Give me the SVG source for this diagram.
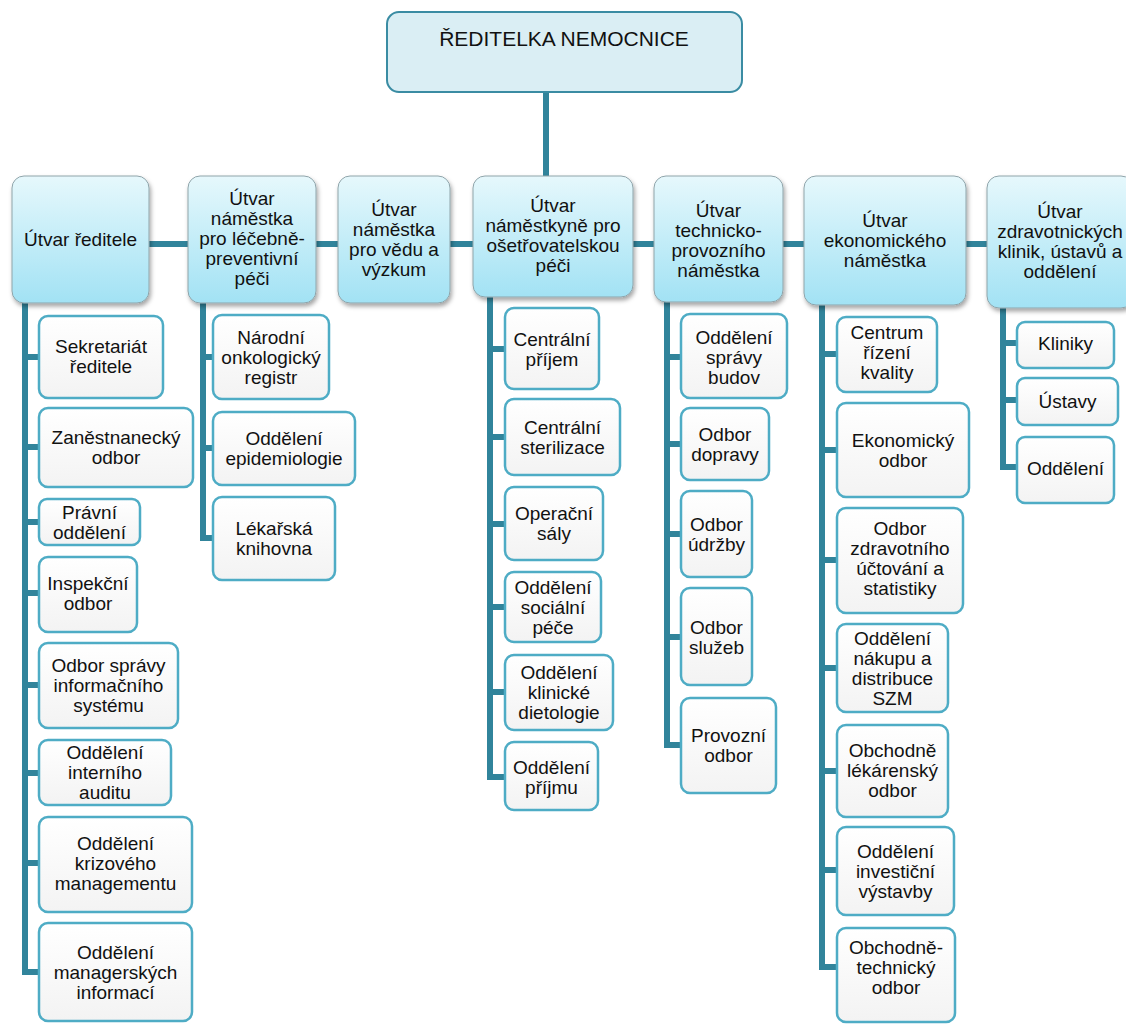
<svg xmlns="http://www.w3.org/2000/svg" width="1126" height="1024" viewBox="0 0 1126 1024">
<defs>
<linearGradient id="g2" x1="0" y1="0" x2="0" y2="1">
<stop offset="0" stop-color="#e6f8fc"/>
<stop offset="1" stop-color="#a2e2f4"/>
</linearGradient>
<linearGradient id="g3" x1="0" y1="0" x2="0" y2="1">
<stop offset="0" stop-color="#ffffff"/>
<stop offset="1" stop-color="#f3f3f3"/>
</linearGradient>
<filter id="sh" x="-10%" y="-10%" width="125%" height="130%">
<feDropShadow dx="1.5" dy="3" stdDeviation="2" flood-color="#000" flood-opacity="0.35"/>
</filter>
</defs>
<style>
text{font-family:"Liberation Sans",Arial,sans-serif;font-size:19px;fill:#111;text-anchor:middle}
.top rect{fill:#daeef4;stroke:#3a8ca3;stroke-width:2}
.top text{font-size:21px}
.l2 rect{fill:url(#g2);stroke:#8fa4aa;stroke-width:1;filter:url(#sh)}
.l3 rect{fill:url(#g3);stroke:#4eacc5;stroke-width:2.5}
.conn path{fill:none;stroke:#31849b;stroke-width:6;stroke-linejoin:miter}
</style>
<rect width="1126" height="1024" fill="#fff"/>
<g class="conn" id="connectors">
<path d="M546 92V244M149 244H987"/>
<path d="M25 303V972H39M25 357H39M25 447H39M25 522H39M25 593H39M25 685H39M25 773H39M25 863H39"/>
<path d="M203 302V538H213M203 357H213M203 448H213"/>
<path d="M490 297V777H505M490 349H505M490 437H505M490 524H505M490 607H505M490 692H505"/>
<path d="M667 302V745H681M667 357H681M667 444H681M667 534H681M667 637H681"/>
<path d="M822 305V967H837M822 354H837M822 450H837M822 560H837M822 668H837M822 771H837M822 870H837"/>
<path d="M1003 308V467H1017M1003 343H1017M1003 400H1017"/>
</g>

<g class="top" id="n-reditelka"><rect x="387" y="12" width="355" height="80" rx="12"/><text x="564" y="46">ŘEDITELKA NEMOCNICE</text></g>

<g class="l2" id="n-utvar-reditele"><rect x="12" y="176" width="137" height="127" rx="12"/><text x="80.5" y="246">Útvar ředitele</text></g>
<g class="l2" id="n-lecebne"><rect x="188" y="176" width="128" height="127" rx="12"/><text x="252" y="205">Útvar</text><text x="252" y="225">náměstka</text><text x="252" y="245">pro léčebně-</text><text x="252" y="265">preventivní</text><text x="252" y="285">péči</text></g>
<g class="l2" id="n-veda"><rect x="338" y="176" width="112" height="127" rx="12"/><text x="394" y="216">Útvar</text><text x="394" y="236">náměstka</text><text x="394" y="256">pro vědu a</text><text x="394" y="276">výzkum</text></g>
<g class="l2" id="n-osetrovatelska"><rect x="473" y="176" width="160" height="121" rx="12"/><text x="553" y="212">Útvar</text><text x="553" y="232">náměstkyně pro</text><text x="553" y="252">ošetřovatelskou</text><text x="553" y="272">péči</text></g>
<g class="l2" id="n-technicko"><rect x="654" y="176" width="129" height="126" rx="12"/><text x="718.5" y="217">Útvar</text><text x="718.5" y="237">technicko-</text><text x="718.5" y="257">provozního</text><text x="718.5" y="277">náměstka</text></g>
<g class="l2" id="n-ekonomicky"><rect x="804" y="176" width="162" height="129" rx="12"/><text x="885" y="227">Útvar</text><text x="885" y="247">ekonomického</text><text x="885" y="267">náměstka</text></g>
<g class="l2" id="n-zdravotnicke"><rect x="987" y="176" width="146" height="132" rx="12"/><text x="1060" y="218">Útvar</text><text x="1060" y="238">zdravotnických</text><text x="1060" y="258">klinik, ústavů a</text><text x="1060" y="278">oddělení</text></g>

<g class="l3" id="n-sekretariat"><rect x="39" y="316" width="124" height="82" rx="9"/><text x="101" y="353">Sekretariát</text><text x="101" y="373">ředitele</text></g>
<g class="l3" id="n-zamestnanecky"><rect x="39" y="408" width="154" height="79" rx="9"/><text x="116" y="444">Zaněstnanecký</text><text x="116" y="464">odbor</text></g>
<g class="l3" id="n-pravni"><rect x="39" y="499" width="101" height="46" rx="8"/><text x="89.5" y="519">Právní</text><text x="89.5" y="539">oddělení</text></g>
<g class="l3" id="n-inspekcni"><rect x="39" y="557" width="98" height="75" rx="9"/><text x="88" y="590">Inspekční</text><text x="88" y="610">odbor</text></g>
<g class="l3" id="n-is"><rect x="39" y="643" width="139" height="85" rx="9"/><text x="108.5" y="672">Odbor správy</text><text x="108.5" y="692">informačního</text><text x="108.5" y="712">systému</text></g>
<g class="l3" id="n-audit"><rect x="39" y="740" width="132" height="65" rx="9"/><text x="105" y="759">Oddělení</text><text x="105" y="779">interního</text><text x="105" y="799">auditu</text></g>
<g class="l3" id="n-krizovy"><rect x="39" y="817" width="153" height="95" rx="9"/><text x="115.5" y="850">Oddělení</text><text x="115.5" y="870">krizového</text><text x="115.5" y="890">managementu</text></g>
<g class="l3" id="n-managerske"><rect x="39" y="923" width="153" height="98" rx="9"/><text x="115.5" y="959">Oddělení</text><text x="115.5" y="979">managerských</text><text x="115.5" y="999">informací</text></g>

<g class="l3" id="n-onko"><rect x="213" y="315" width="116" height="84" rx="9"/><text x="271" y="344">Národní</text><text x="271" y="364">onkologický</text><text x="271" y="384">registr</text></g>
<g class="l3" id="n-epid"><rect x="213" y="412" width="142" height="73" rx="9"/><text x="284" y="445">Oddělení</text><text x="284" y="465">epidemiologie</text></g>
<g class="l3" id="n-knihovna"><rect x="213" y="497" width="122" height="83" rx="9"/><text x="274" y="535">Lékařská</text><text x="274" y="555">knihovna</text></g>

<g class="l3" id="n-centr-prijem"><rect x="505" y="308" width="94" height="81" rx="9"/><text x="552" y="346">Centrální</text><text x="552" y="366">příjem</text></g>
<g class="l3" id="n-steril"><rect x="505" y="399" width="115" height="76" rx="9"/><text x="562.5" y="434">Centrální</text><text x="562.5" y="454">sterilizace</text></g>
<g class="l3" id="n-saly"><rect x="505" y="487" width="98" height="73" rx="9"/><text x="554" y="520">Operační</text><text x="554" y="540">sály</text></g>
<g class="l3" id="n-socialni"><rect x="505" y="572" width="96" height="70" rx="9"/><text x="553" y="594">Oddělení</text><text x="553" y="614">sociální</text><text x="553" y="634">péče</text></g>
<g class="l3" id="n-dietologie"><rect x="505" y="655" width="108" height="75" rx="9"/><text x="559" y="679">Oddělení</text><text x="559" y="699">klinické</text><text x="559" y="719">dietologie</text></g>
<g class="l3" id="n-prijmu"><rect x="505" y="742" width="93" height="68" rx="9"/><text x="551.5" y="774">Oddělení</text><text x="551.5" y="794">příjmu</text></g>

<g class="l3" id="n-budovy"><rect x="681" y="314" width="106" height="84" rx="9"/><text x="734" y="344">Oddělení</text><text x="734" y="364">správy</text><text x="734" y="384">budov</text></g>
<g class="l3" id="n-doprava"><rect x="681" y="408" width="88" height="72" rx="9"/><text x="725" y="441">Odbor</text><text x="725" y="461">dopravy</text></g>
<g class="l3" id="n-udrzba"><rect x="681" y="491" width="71" height="86" rx="9"/><text x="716.5" y="531">Odbor</text><text x="716.5" y="551">údržby</text></g>
<g class="l3" id="n-sluzby"><rect x="681" y="588" width="71" height="97" rx="9"/><text x="716.5" y="634">Odbor</text><text x="716.5" y="654">služeb</text></g>
<g class="l3" id="n-provozni"><rect x="681" y="698" width="95" height="95" rx="9"/><text x="728.5" y="742">Provozní</text><text x="728.5" y="762">odbor</text></g>

<g class="l3" id="n-kvalita"><rect x="837" y="317" width="100" height="75" rx="9"/><text x="887" y="339">Centrum</text><text x="887" y="359">řízení</text><text x="887" y="379">kvality</text></g>
<g class="l3" id="n-ekon-odbor"><rect x="837" y="403" width="132" height="94" rx="9"/><text x="903" y="447">Ekonomický</text><text x="903" y="467">odbor</text></g>
<g class="l3" id="n-uctovani"><rect x="837" y="508" width="126" height="105" rx="9"/><text x="900" y="535">Odbor</text><text x="900" y="555">zdravotního</text><text x="900" y="575">účtování a</text><text x="900" y="595">statistiky</text></g>
<g class="l3" id="n-nakup"><rect x="837" y="624" width="111" height="88" rx="9"/><text x="892.5" y="645">Oddělení</text><text x="892.5" y="665">nákupu a</text><text x="892.5" y="685">distribuce</text><text x="892.5" y="705">SZM</text></g>
<g class="l3" id="n-lekarensky"><rect x="837" y="725" width="111" height="92" rx="9"/><text x="892.5" y="757">Obchodně</text><text x="892.5" y="777">lékárenský</text><text x="892.5" y="797">odbor</text></g>
<g class="l3" id="n-investicni"><rect x="837" y="827" width="117" height="88" rx="9"/><text x="895.5" y="858">Oddělení</text><text x="895.5" y="878">investiční</text><text x="895.5" y="898">výstavby</text></g>
<g class="l3" id="n-obch-tech"><rect x="837" y="928" width="118" height="94" rx="9"/><text x="896" y="954">Obchodně-</text><text x="896" y="974">technický</text><text x="896" y="994">odbor</text></g>

<g class="l3" id="n-kliniky"><rect x="1017" y="322" width="97" height="46" rx="8"/><text x="1065.5" y="350">Kliniky</text></g>
<g class="l3" id="n-ustavy"><rect x="1017" y="378" width="101" height="47" rx="8"/><text x="1067.5" y="408">Ústavy</text></g>
<g class="l3" id="n-oddeleni"><rect x="1017" y="437" width="97" height="66" rx="8"/><text x="1065.5" y="475">Oddělení</text></g>
</svg>
